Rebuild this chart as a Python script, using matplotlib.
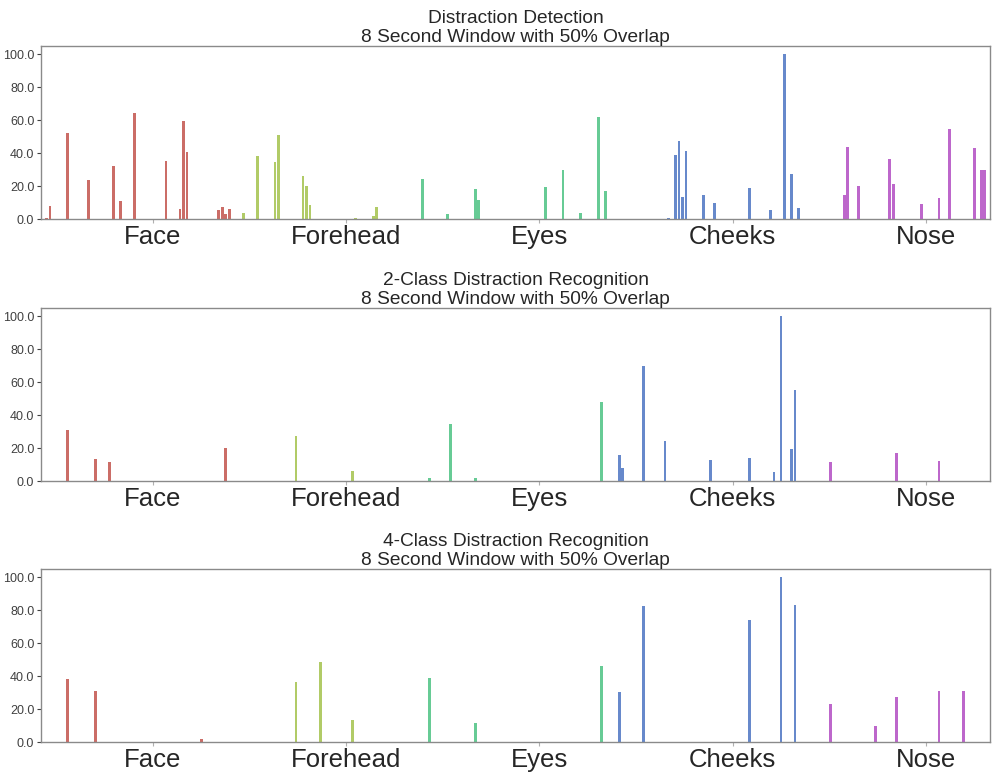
import numpy as np
import matplotlib
matplotlib.use("Agg")
import matplotlib.pyplot as plt
from matplotlib.ticker import FormatStrFormatter
import seaborn as sns

plt.rcParams['font.family'] = ['Liberation Sans', 'DejaVu Sans']

REGIONS = ["Face", "Forehead", "Eyes", "Cheeks", "Nose"]
FEATS_PER_REGION = 54
N_FEATS = len(REGIONS) * FEATS_PER_REGION
TICK_POS = [31.25, 86.25, 141.25, 196.25, 251.25]

WINDOW = "8 Second Window with 50% Overlap"
TITLES = ["Distraction Detection",
          "2-Class Distraction Recognition",
          "4-Class Distraction Recognition"]

# selected feature indices and their relative importance (% of max)
det_idx = [1, 2, 7, 13, 20, 22, 26, 35, 39, 40, 41, 50, 51, 52, 53,
           57, 61, 66, 67, 74, 75, 76, 89, 94, 95,
           108, 112, 115, 123, 124, 143, 148, 153, 158, 160,
           178, 180, 181, 182, 183, 188, 191, 201, 207, 211, 213, 215,
           216, 228, 229, 232, 241, 242, 250, 255, 258, 265, 267, 268]
det_val = [1.0, 8.1, 52.0, 23.7, 32.2, 10.9, 64.2, 35.2, 6.1, 59.7, 40.5, 5.5, 7.3, 3.2, 6.5,
           4.0, 38.5, 34.8, 51.2, 25.9, 20.0, 8.7, 1.0, 2.2, 7.5,
           24.5, 0.3, 3.0, 18.4, 11.9, 19.6, 29.8, 3.6, 61.9, 17.0,
           1.0, 38.7, 47.4, 13.4, 41.5, 14.6, 9.9, 19.2, 5.7, 100.0, 27.3, 7.1,
           0.4, 14.8, 43.7, 20.2, 36.2, 21.5, 9.3, 12.6, 54.7, 43.1, 29.6, 30.0]

two_idx = [7, 15, 19, 52, 72, 88, 110, 116, 123, 159,
           164, 165, 171, 177, 190, 201, 208, 210, 213, 214,
           224, 243, 255]
two_val = [31.3, 13.5, 11.7, 20.2, 27.7, 6.1, 1.8, 34.7, 1.8, 47.9,
           16.2, 7.9, 69.7, 24.2, 12.7, 14.1, 5.5, 100.0, 19.8, 55.4,
           11.5, 17.4, 12.1]

four_idx = [7, 15, 45, 72, 79, 88, 110, 123, 159,
            164, 171, 201, 210, 214, 224, 237, 243, 255, 262]
four_val = [38.5, 31.2, 2.2, 36.7, 48.9, 13.6, 39.1, 11.4, 46.5,
            30.2, 82.8, 73.8, 100.0, 83.2, 23.1, 9.7, 27.4, 31.0, 31.0]

PANELS = [(det_idx, det_val), (two_idx, two_val), (four_idx, four_val)]

# region colours, desaturated the way seaborn's barplot does
palette = [sns.desaturate(c, 0.75) for c in sns.color_palette("hls", len(REGIONS))]
x = np.arange(N_FEATS)
bar_colors = [palette[i // FEATS_PER_REGION] for i in x]

fig = plt.figure(figsize=(9.92, 7.72), dpi=100)
bottoms = [0.716, 0.3766, 0.0385]
height = 0.2245

for (idx, val), title, bottom in zip(PANELS, TITLES, bottoms):
    ax = fig.add_axes([0.0416, bottom, 0.9564, height])
    heights = np.zeros(N_FEATS)
    heights[idx] = val
    ax.bar(x, heights, width=0.8, color=bar_colors, linewidth=0)
    ax.set_xlim(-0.5, N_FEATS - 0.5)
    ax.set_ylim(0, 105)
    ax.set_yticks(np.arange(0, 101, 20))
    ax.yaxis.set_major_formatter(FormatStrFormatter('%.1f'))
    ax.set_xticks(TICK_POS)
    ax.set_xticklabels(REGIONS, fontsize=18.5, color='#262626')
    ax.tick_params(axis='y', labelsize=9, colors='#404040', length=3, width=0.8, pad=2)
    ax.tick_params(axis='x', colors='#b0b0b0', labelcolor='#262626', length=3, width=0.8, pad=1)
    for s in ax.spines.values():
        s.set_color('#8a8a8a')
        s.set_linewidth(1.0)
    ax.set_title(title + "\n" + WINDOW, fontsize=13.8, color='#262626', pad=1,
                 linespacing=1.15)

fig.savefig("out.png", dpi=100)
